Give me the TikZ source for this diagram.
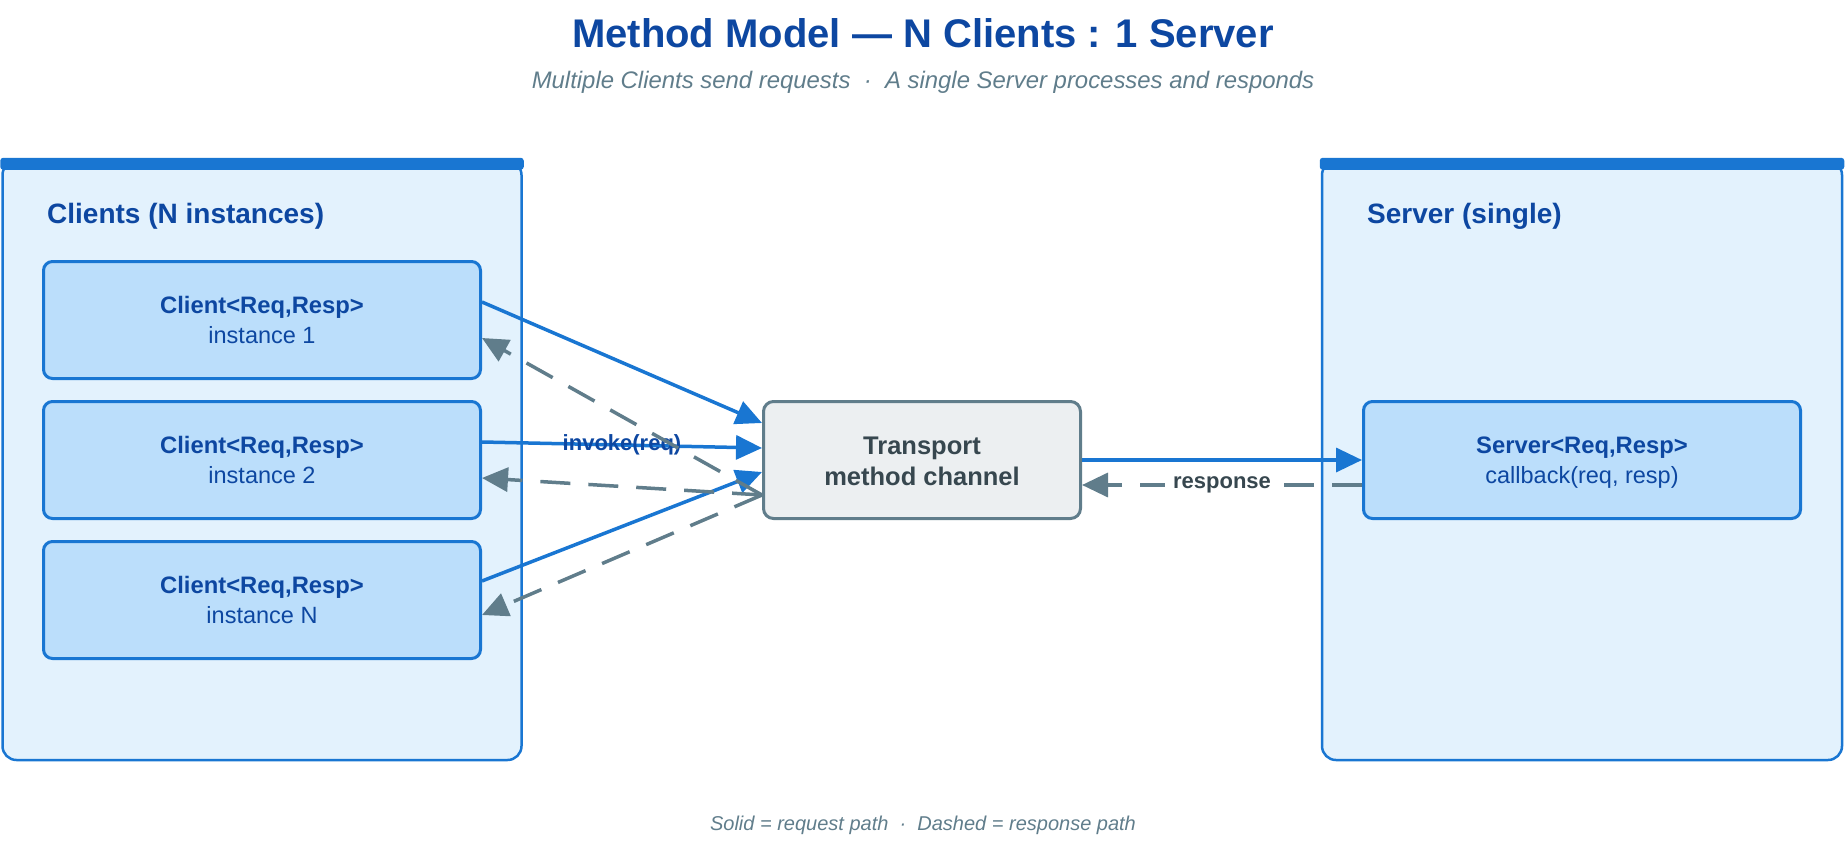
\documentclass[tikz,border=0pt]{standalone}
\usepackage{fontspec}
\setmainfont{Liberation Sans}
\usetikzlibrary{arrows.meta,calc}
\definecolor{cblue}{HTML}{1976D2}
\definecolor{dblue}{HTML}{0D47A1}
\definecolor{lblue}{HTML}{E3F2FD}
\definecolor{mblue}{HTML}{BBDEFB}
\definecolor{slate}{HTML}{607D8B}
\definecolor{dslate}{HTML}{37474F}
\definecolor{tgray}{HTML}{ECEFF1}
\begin{document}
\begin{tikzpicture}[x=1pt,y=-1pt,
  container/.style={draw=cblue, line width=2.5pt, fill=lblue, rounded corners=14pt, inner sep=0pt},
  cbox/.style={draw=cblue, line width=3pt, fill=mblue, rounded corners=9pt, minimum width=437pt, minimum height=117pt, inner sep=0pt},
  tbox/.style={draw=slate, line width=3pt, fill=tgray, rounded corners=10pt, minimum width=317pt, minimum height=117pt, inner sep=0pt},
  grouplabel/.style={font=\fontsize{28}{33}\selectfont\bfseries, text=dblue, anchor=base west, inner sep=0pt},
  btitle/.style={font=\fontsize{23.8}{28}\selectfont\bfseries, text=dblue, anchor=base, inner sep=0pt},
  bsub/.style={font=\fontsize{23.5}{28}\selectfont, text=dblue, anchor=base, inner sep=0pt},
  ttitle/.style={font=\fontsize{25.5}{30}\selectfont\bfseries, text=dslate, anchor=base, inner sep=0pt},
  reqline/.style={draw=cblue, line width=3.5pt, -{Triangle[length=26pt,width=24pt]}},
  respline/.style={draw=slate, line width=3.5pt, dash pattern=on 30pt off 18pt, -{Triangle[length=26pt,width=24pt]}}
]
\useasboundingbox (0,0) rectangle (1846,846);

% title
\node[font=\fontsize{40}{48}\selectfont\bfseries, text=dblue, anchor=base, inner sep=0pt] (title) at (923,47) {Method Model — N Clients : 1 Server};
\node[font=\fontsize{23.9}{28}\selectfont\itshape, text=slate, anchor=base, inner sep=0pt] (subtitle) at (923,88) {Multiple Clients send requests\ \ ·\ \ A single Server processes and responds};

% containers
\node[container, minimum width=519pt, minimum height=599pt] (clients) at (262,460.5) {};
\fill[cblue, rounded corners=3pt] ([xshift=-1pt,yshift=2pt]clients.north west) rectangle ([xshift=1pt,yshift=-10pt]clients.north east);
\node[grouplabel] (clientslbl) at (47,223) {Clients (N instances)};

\node[container, minimum width=520pt, minimum height=599pt] (servers) at (1582,460.5) {};
\fill[cblue, rounded corners=3pt] ([xshift=-1pt,yshift=2pt]servers.north west) rectangle ([xshift=1pt,yshift=-10pt]servers.north east);
\node[grouplabel] (serverslbl) at (1367,223) {Server (single)};

% client boxes
\node[cbox] (c1) at (262,320) {};
\node[btitle] (c1t) at ([yshift=7pt]c1.center) {Client<Req,Resp>};
\node[bsub] (c1s) at ([yshift=-23pt]c1.center) {instance 1};

\node[cbox] (c2) at (262,460) {};
\node[btitle] (c2t) at ([yshift=7pt]c2.center) {Client<Req,Resp>};
\node[bsub] (c2s) at ([yshift=-23pt]c2.center) {instance 2};

\node[cbox] (c3) at (262,600) {};
\node[btitle] (c3t) at ([yshift=7pt]c3.center) {Client<Req,Resp>};
\node[bsub] (c3s) at ([yshift=-23pt]c3.center) {instance N};

% transport
\node[tbox] (tr) at (922,460) {};
\node[ttitle] (trt) at ([yshift=6pt]tr.center) {Transport};
\node[ttitle] (trs) at ([yshift=-25pt]tr.center) {method channel};

% server box
\node[cbox] (srv) at (1582,460) {};
\node[btitle] (srvt) at ([yshift=7pt]srv.center) {Server<Req,Resp>};
\node[bsub] (srvs) at ([yshift=-23pt]srv.center) {callback(req, resp)};

% request paths
\draw[reqline] ([yshift=18pt]c1.east) -- ([yshift=37pt]tr.west);
\draw[reqline] ([yshift=18pt]c2.east) -- node[font=\fontsize{22}{26}\selectfont\bfseries, text=dblue, inner sep=0pt] (invlbl) {invoke(req)} ([yshift=12pt]tr.west);
\draw[reqline] ([yshift=19pt]c3.east) -- ([yshift=-12pt]tr.west);

% response paths
\draw[respline] ([yshift=-35pt]tr.west) -- ([yshift=-18pt]c1.east);
\draw[respline] ([yshift=-35pt]tr.west) -- ([yshift=-18pt]c2.east);
\draw[respline] ([yshift=-35pt]tr.west) -- ([yshift=-15pt]c3.east);

% server link
\draw[reqline] (tr.east) -- (srv.west);
\draw[respline] ([yshift=-25pt]srv.west) -- node[font=\fontsize{22}{26}\selectfont\bfseries, text=dslate, fill=white, inner xsep=8pt, inner ysep=4pt] (resplbl) {response} ([yshift=-25pt]tr.east);

% legend
\node[font=\fontsize{20}{24}\selectfont\itshape, text=slate, anchor=base, inner sep=0pt] (legend) at (923,830) {Solid = request path\ \ ·\ \ Dashed = response path};
\end{tikzpicture}
\end{document}
